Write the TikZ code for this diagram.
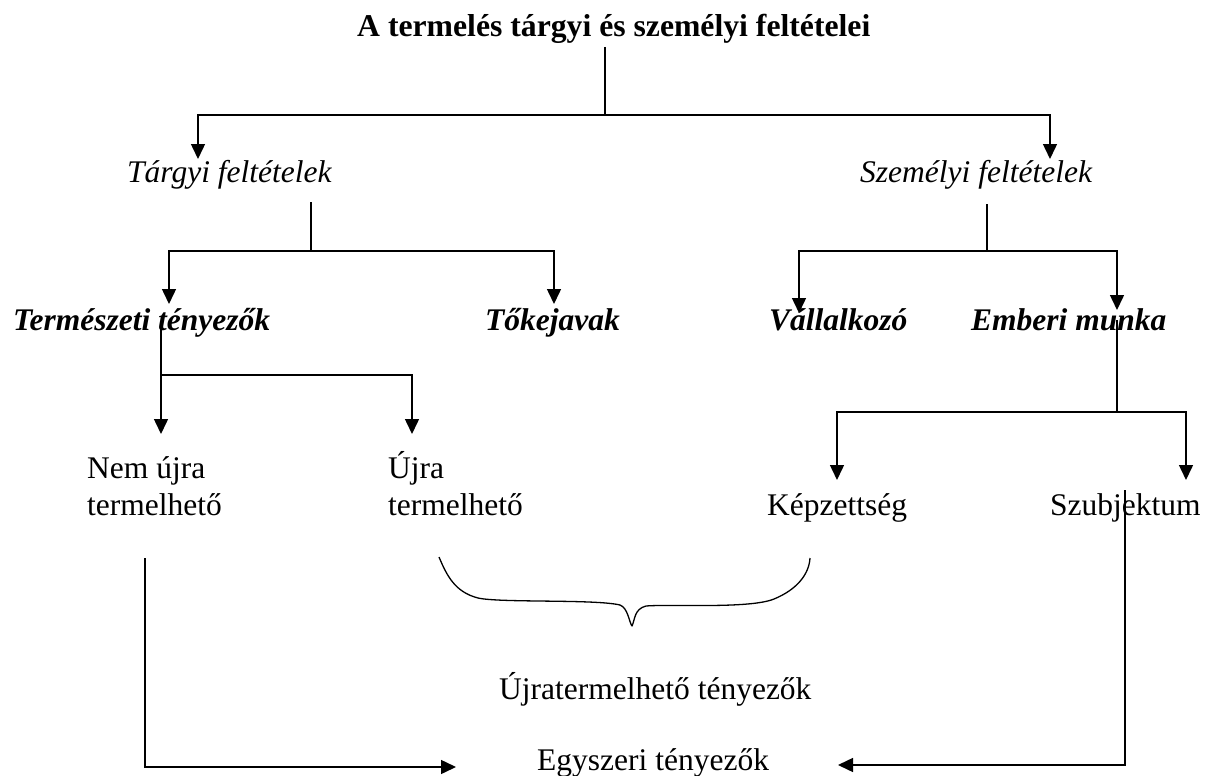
\documentclass[tikz,border=0pt]{standalone}
\usepackage{fontspec}
\setmainfont{Liberation Serif}
\usetikzlibrary{arrows.meta}
\begin{document}
\begin{tikzpicture}[x=1pt,y=-1pt,
  lbl/.style={anchor=base west, inner sep=0pt, font=\fontsize{31.5}{37}\selectfont},
  ttl/.style={lbl, font=\fontsize{31.7}{37}\selectfont\bfseries},
  lvla/.style={lbl, font=\fontsize{31.5}{37}\selectfont\itshape},
  lvlb/.style={lbl, font=\fontsize{31.5}{37}\selectfont\bfseries\itshape},
  conn/.style={line width=1.5pt},
  arr/.style={line width=1.5pt, -{Triangle[length=15pt,width=14pt]}},
  brace/.style={line width=1.3pt, line join=round},
]
\useasboundingbox (0,0) rectangle (1205,776);

% texts
\node[ttl]  (title) at (357,37) {A termelés tárgyi és személyi feltételei};
\node[lvla] (targyi) at (127,182) {Tárgyi feltételek};
\node[lvla] (szemelyi) at (860,182) {Személyi feltételek};
\node[lvlb] (termeszeti) at (13,330) {Természeti tényezők};
\node[lvlb] (toke) at (485,330) {Tőkejavak};
\node[lvlb] (vallalkozo) at (769,330) {Vállalkozó};
\node[lvlb] (emberi) at (971,330) {Emberi munka};
\node[lbl] (nemujra) at (87,478) {\begin{tabular}[t]{@{}l@{}}Nem újra\\termelhető\end{tabular}};
\node[lbl] (ujra) at (388,478) {\begin{tabular}[t]{@{}l@{}}Újra\\termelhető\end{tabular}};
\node[lbl] (kepzettseg) at (767,515) {Képzettség};
\node[lbl] (szubjektum) at (1050,515) {Szubjektum};
\node[lbl] (ujrat) at (499,699) {Újratermelhető tényezők};
\node[lbl] (egyszeri) at (537,770) {Egyszeri tényezők};

% junction and tip coordinates
\coordinate (c0) at (605,47);   \coordinate (c1) at (605,115);
\coordinate (c1L) at (198,115); \coordinate (c1R) at (1050,115);
\coordinate (tipTargyi) at (198,159); \coordinate (tipSzem) at (1050,159);

\coordinate (d0) at (311,202);  \coordinate (d1) at (311,251);
\coordinate (d1L) at (169,251); \coordinate (d1R) at (554,251);
\coordinate (tipTerm) at (169,304); \coordinate (tipToke) at (554,304);

\coordinate (e0) at (987,204);  \coordinate (e1) at (987,251);
\coordinate (e1L) at (799,251); \coordinate (e1R) at (1117,251);
\coordinate (tipVall) at (799,313); \coordinate (tipEmb) at (1117,310);

\coordinate (f0) at (161,328);  \coordinate (f1) at (161,375);
\coordinate (f1R) at (412,375);
\coordinate (tipNem) at (161,434); \coordinate (tipUjra) at (412,434);

\coordinate (g0) at (1117,320); \coordinate (g1) at (1117,412);
\coordinate (g1L) at (837,412); \coordinate (g1R) at (1186,412);
\coordinate (tipKep) at (837,480); \coordinate (tipSzub) at (1186,480);

\coordinate (h0) at (145,558);  \coordinate (h1) at (145,767);
\coordinate (tipEgyL) at (456,767);
\coordinate (k0) at (1125,490); \coordinate (k1) at (1125,765);
\coordinate (tipEgyR) at (838,765);

% connectors
\draw[conn] (c0) -- (c1);
\draw[arr] (c1) -- (c1L) -- (tipTargyi);
\draw[arr] (c1) -- (c1R) -- (tipSzem);

\draw[conn] (d0) -- (d1);
\draw[arr] (d1) -- (d1L) -- (tipTerm);
\draw[arr] (d1) -- (d1R) -- (tipToke);

\draw[conn] (e0) -- (e1);
\draw[arr] (e1) -- (e1L) -- (tipVall);
\draw[arr] (e1) -- (e1R) -- (tipEmb);

\draw[arr] (f0) -- (tipNem);
\draw[arr] (f1) -- (f1R) -- (tipUjra);

\draw[conn] (g0) -- (g1);
\draw[arr] (g1) -- (g1L) -- (tipKep);
\draw[arr] (g1) -- (g1R) -- (tipSzub);

\draw[arr] (h0) -- (h1) -- (tipEgyL);
\draw[arr] (k0) -- (k1) -- (tipEgyR);

% curly brace
\draw[brace] (439,557) .. controls (447,576) and (455,592) .. (478,598)
  .. controls (500,603) and (595,599) .. (620,605)
  .. controls (628,608) and (629,622) .. (632,626)
  .. controls (635,620) and (634,609) .. (646,606)
  .. controls (670,604) and (750,609) .. (774,599)
  .. controls (796,590) and (809,575) .. (810,558);
\end{tikzpicture}
\end{document}
